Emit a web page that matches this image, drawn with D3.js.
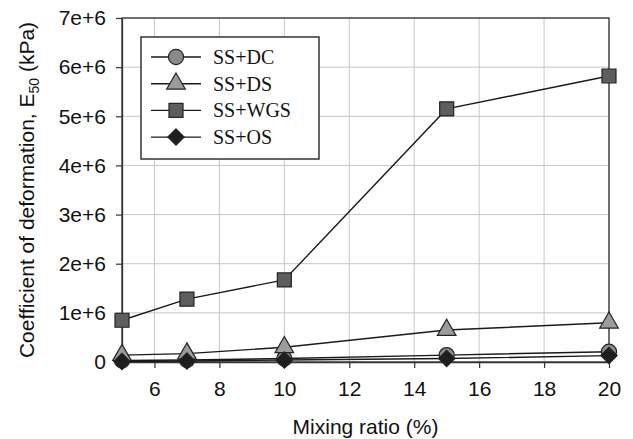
<!DOCTYPE html>
<html>
<head>
<meta charset="utf-8">
<script src="https://cdn.jsdelivr.net/npm/d3@7"></script>
<style>
  html, body { margin: 0; padding: 0; background: #fff; }
  svg { display: block; }
</style>
</head>
<body>
<svg id="chart" width="633" height="439"></svg>
<script>
// Mixing ratio (%) and E50 (kPa) for each soil mixture
const mixingRatio = [5, 7, 10, 15, 20];
const ssDC  = [0.03e6, 0.04e6, 0.07e6, 0.14e6, 0.21e6];
const ssDS  = [0.14e6, 0.17e6, 0.30e6, 0.65e6, 0.80e6];
const ssWGS = [0.85e6, 1.28e6, 1.67e6, 5.15e6, 5.82e6];
const ssOS  = [0.01e6, 0.02e6, 0.04e6, 0.07e6, 0.13e6];
const seriesNames = ["SS+DC", "SS+DS", "SS+WGS", "SS+OS"];
const xTicks = [6, 8, 10, 12, 14, 16, 18, 20];
const yTicks = [0, 1e6, 2e6, 3e6, 4e6, 5e6, 6e6, 7e6];

const series = [
  { name: seriesNames[0], values: ssDC,  symbol: d3.symbolCircle,   size: 180, fill: "#8a8a8a" },
  { name: seriesNames[1], values: ssDS,  symbol: d3.symbolTriangle, size: 150, fill: "#9c9c9c" },
  { name: seriesNames[2], values: ssWGS, symbol: d3.symbolSquare,   size: 196, fill: "#5e5e5e" },
  { name: seriesNames[3], values: ssOS,  symbol: d3.symbolDiamond2, size: 170, fill: "#1e1e1e" }
];

const svg = d3.select("#chart");
const m = { left: 122, right: 609, top: 18, bottom: 362 };

const x = d3.scaleLinear().domain([5, 20]).range([m.left, m.right]);
const y = d3.scaleLinear().domain([0, 7e6]).range([m.bottom, m.top]);

const sans = "'Liberation Sans', Arial, sans-serif";
const serif = "'Liberation Serif', 'Times New Roman', serif";

// grid
const grid = svg.append("g").attr("stroke", "#c6c6c6").attr("stroke-width", 1);
xTicks.forEach(t => grid.append("line")
  .attr("x1", x(t)).attr("x2", x(t)).attr("y1", m.top).attr("y2", m.bottom));
yTicks.filter(t => t > 0).forEach(t => grid.append("line")
  .attr("x1", m.left).attr("x2", m.right).attr("y1", y(t)).attr("y2", y(t)));

// plot frame
svg.append("rect")
  .attr("x", m.left).attr("y", m.top)
  .attr("width", m.right - m.left).attr("height", m.bottom - m.top)
  .attr("fill", "none").attr("stroke", "#333").attr("stroke-width", 1.3);

// axes
const xAxis = svg.append("g")
  .attr("transform", `translate(0,${m.bottom})`)
  .call(d3.axisBottom(x).tickValues(xTicks).tickSize(6).tickPadding(13).tickSizeOuter(0));
const yAxis = svg.append("g")
  .attr("transform", `translate(${m.left},0)`)
  .call(d3.axisLeft(y).tickValues(yTicks).tickSize(6).tickPadding(10).tickSizeOuter(0)
    .tickFormat(d => d === 0 ? "0" : (d / 1e6) + "e+6"));
[xAxis, yAxis].forEach(a => {
  a.select(".domain").attr("stroke", "#333").attr("stroke-width", 1.3);
  a.selectAll(".tick line").attr("stroke", "#333").attr("stroke-width", 1.2);
  a.selectAll(".tick text").attr("fill", "#111")
    .style("font-family", sans).style("font-size", "21px");
});

// axis titles
svg.append("text")
  .attr("x", (m.left + m.right) / 2).attr("y", 434)
  .attr("text-anchor", "middle")
  .style("font-family", sans).style("font-size", "21px").attr("fill", "#111")
  .text("Mixing ratio (%)");

const yTitle = svg.append("text")
  .attr("transform", `translate(34,${(m.top + m.bottom) / 2}) rotate(-90)`)
  .attr("text-anchor", "middle")
  .style("font-family", sans).style("font-size", "21px").attr("fill", "#111");
yTitle.append("tspan").text("Coefficient of deformation, E");
yTitle.append("tspan").attr("dy", 5).style("font-size", "14px").text("50");
yTitle.append("tspan").attr("dy", -5).text(" (kPa)");

// lines
const line = d3.line().x((d, i) => x(mixingRatio[i])).y(d => y(d));
series.forEach(s => {
  svg.append("path").datum(s.values)
    .attr("d", line)
    .attr("fill", "none").attr("stroke", "#1a1a1a").attr("stroke-width", 1.4);
});

// markers
series.forEach(s => {
  svg.append("g").selectAll("path").data(s.values).join("path")
    .attr("transform", (d, i) => `translate(${x(mixingRatio[i])},${y(d)})`)
    .attr("d", d3.symbol().type(s.symbol).size(s.size))
    .attr("fill", s.fill).attr("stroke", "#222").attr("stroke-width", 1.2);
});

// legend
const lg = svg.append("g");
lg.append("rect")
  .attr("x", 141).attr("y", 37).attr("width", 178).attr("height", 122)
  .attr("fill", "#fff").attr("stroke", "#333").attr("stroke-width", 1.5);
series.forEach((s, i) => {
  const cy = 57 + i * 26.7;
  lg.append("line").attr("x1", 151).attr("x2", 201).attr("y1", cy).attr("y2", cy)
    .attr("stroke", "#1a1a1a").attr("stroke-width", 1.4);
  lg.append("path").attr("transform", `translate(176,${cy})`)
    .attr("d", d3.symbol().type(s.symbol).size(s.size))
    .attr("fill", s.fill).attr("stroke", "#222").attr("stroke-width", 1.2);
  lg.append("text").attr("x", 213).attr("y", cy + 7)
    .style("font-family", serif).style("font-size", "20px").attr("fill", "#111")
    .text(s.name);
});
</script>
</body>
</html>
